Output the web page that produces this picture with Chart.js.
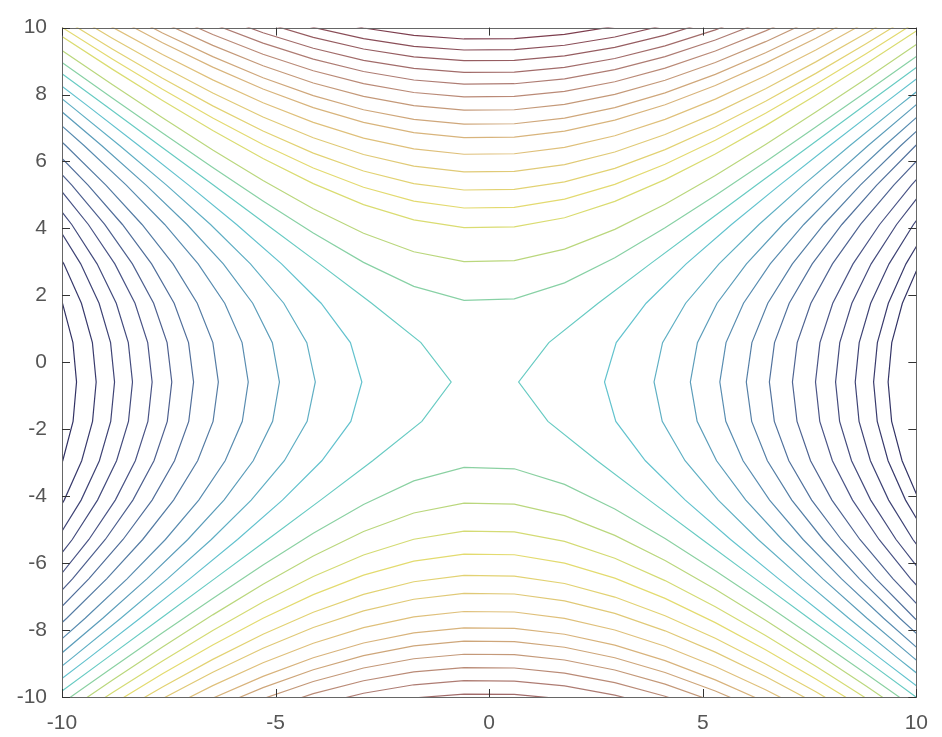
<!DOCTYPE html>
<html><head><meta charset="utf-8">
<script src="https://cdn.jsdelivr.net/npm/chart.js@4"></script>
<style>html,body{margin:0;padding:0;background:#fff}</style>
</head><body>
<canvas id="c" width="942" height="737"></canvas>
<script>
// ---- values ----
const xTicks = [-10, -5, 0, 5, 10];
const yTicks = [-10, -8, -6, -4, -2, 0, 2, 4, 6, 8, 10];
// saddle point (centre of the empty X)
const saddleX = -0.1;
const saddleY = -0.6;
// squared steepness of the asymptotes of the empty X
const slopeSq = 0.873;
// y where each upper contour crosses the vertical through the saddle
const topCrossY = [1.81, 2.98, 4.00, 4.59, 5.13, 5.67, 6.20, 6.70, 7.10, 7.52, 7.92, 8.30, 8.65, 9.00, 9.32, 9.65];
// y where each lower contour crosses the vertical through the saddle
const bottomCrossY = [-3.10, -4.18, -5.02, -5.71, -6.35, -6.89, -7.43, -7.92, -8.32, -8.71, -9.11, -9.50, -9.90];
// x where each left / right contour crosses the horizontal through the saddle
const leftCrossX = [-0.89, -2.98, -4.07, -4.91, -5.64, -6.34, -6.92, -7.43, -7.89, -8.35, -8.77, -9.20, -9.66];
const rightCrossX = [0.69, 2.70, 3.86, 4.71, 5.40, 6.02, 6.56, 7.10, 7.64, 8.11, 8.57, 9.00, 9.34];

// ---- style: muted colour map (low -> high) ----
const cmapStops = [
  [0.00, [50, 50, 100]],
  [0.15, [75, 85, 135]],
  [0.30, [90, 145, 180]],
  [0.40, [100, 198, 208]],
  [0.44, [105, 205, 190]],
  [0.50, [185, 215, 125]],
  [0.56, [228, 222, 110]],
  [0.70, [222, 188, 125]],
  [0.85, [178, 128, 118]],
  [1.00, [125, 62, 78]]
];

// ---- build the contour polylines (sampled on the original coarse grid) ----
const gridN = 18;
const grid = Array.from({length: gridN}, (_, k) => -10 + k * 20 / (gridN - 1));

function cmap(t){
  t = Math.max(0, Math.min(1, t));
  for (let i = 1; i < cmapStops.length; i++){
    const [t1, c1] = cmapStops[i], [t0, c0] = cmapStops[i-1];
    if (t <= t1){
      const f = (t - t0) / (t1 - t0);
      return 'rgb(' + c0.map((v, j) => Math.round(v + (c1[j] - v) * f)).join(',') + ')';
    }
  }
  return 'rgb(' + cmapStops[cmapStops.length-1][1].join(',') + ')';
}

const curves = [];
topCrossY.forEach(y => {
  const d = y - saddleY;
  curves.push({level: d*d, pts: grid.map(x => ({x, y: saddleY + Math.sqrt(d*d + slopeSq*(x - saddleX)**2)}))});
});
bottomCrossY.forEach(y => {
  const d = saddleY - y;
  curves.push({level: d*d, pts: grid.map(x => ({x, y: saddleY - Math.sqrt(d*d + slopeSq*(x - saddleX)**2)}))});
});
leftCrossX.forEach(x => {
  const e = saddleX - x;
  curves.push({level: -slopeSq*e*e, pts: grid.map(y => ({x: saddleX - Math.sqrt(e*e + (y - saddleY)**2 / slopeSq), y}))});
});
rightCrossX.forEach(x => {
  const e = x - saddleX;
  curves.push({level: -slopeSq*e*e, pts: grid.map(y => ({x: saddleX + Math.sqrt(e*e + (y - saddleY)**2 / slopeSq), y}))});
});
const lo = Math.min(...curves.map(c => c.level));
const hi = Math.max(...curves.map(c => c.level));

const datasets = curves.map(c => ({
  data: c.pts, showLine: true, pointRadius: 0, borderWidth: 1.2,
  borderColor: cmap((c.level - lo) / (hi - lo)), tension: 0, clip: 0
}));

const frame = {
  id: 'frame',
  afterDraw(chart){
    const ctx = chart.ctx, a = chart.chartArea;
    const xs = chart.scales.x, ys = chart.scales.y;
    ctx.save();
    ctx.strokeStyle = '#666';
    ctx.lineWidth = 1;
    ctx.strokeRect(Math.round(a.left) + 0.5, Math.round(a.top) + 0.5, Math.round(a.right - a.left), Math.round(a.bottom - a.top));
    ctx.strokeStyle = '#333';
    ctx.beginPath();
    const tl = 8;
    xTicks.forEach(v => {
      const p = Math.round(xs.getPixelForValue(v)) + 0.5;
      ctx.moveTo(p, a.bottom); ctx.lineTo(p, a.bottom - tl);
      ctx.moveTo(p, a.top); ctx.lineTo(p, a.top + tl);
    });
    yTicks.forEach(v => {
      const p = Math.round(ys.getPixelForValue(v)) + 0.5;
      ctx.moveTo(a.left, p); ctx.lineTo(a.left + tl, p);
      ctx.moveTo(a.right, p); ctx.lineTo(a.right - tl, p);
    });
    ctx.stroke();
    ctx.restore();
  }
};

new Chart(document.getElementById('c'), {
  type: 'scatter',
  data: { datasets },
  options: {
    responsive: false, animation: false, devicePixelRatio: 1,
    layout: { padding: { left: 0, top: 20, right: 17, bottom: 0 } },
    plugins: { legend: { display: false }, tooltip: { enabled: false } },
    scales: {
      x: {
        type: 'linear', min: -10, max: 10,
        afterBuildTicks: s => { s.ticks = xTicks.map(v => ({value: v})); },
        afterFit: s => { s.height = 40; },
        grid: { display: false, drawTicks: false }, border: { display: false },
        ticks: { padding: 14, color: '#555', font: { family: 'Liberation Sans, Arial', size: 21 }, maxRotation: 0 }
      },
      y: {
        type: 'linear', min: -10, max: 10,
        afterBuildTicks: s => { s.ticks = yTicks.map(v => ({value: v})); },
        afterFit: s => { s.width = 62; },
        grid: { display: false, drawTicks: false }, border: { display: false },
        ticks: { padding: 15, color: '#555', font: { family: 'Liberation Sans, Arial', size: 21 } }
      }
    }
  },
  plugins: [frame]
});
</script>
</body></html>
